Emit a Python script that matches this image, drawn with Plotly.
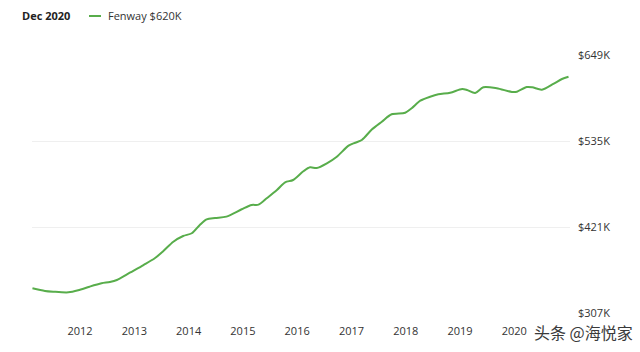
import plotly.graph_objects as go

dates = [
    "2011-02-15", "2011-05-10", "2011-07-05", "2011-10-15", "2011-12-20",
    "2012-03-05", "2012-05-25", "2012-07-20", "2012-09-05", "2012-12-01",
    "2013-03-03", "2013-05-18", "2013-07-15", "2013-09-20", "2013-11-25",
    "2014-01-22", "2014-03-17", "2014-05-02", "2014-06-28", "2014-09-12",
    "2014-12-24", "2015-03-01", "2015-04-16", "2015-06-10", "2015-08-18",
    "2015-10-12", "2015-12-05", "2016-02-14", "2016-03-28", "2016-05-12",
    "2016-07-19", "2016-09-24", "2016-12-12", "2017-01-26", "2017-03-11",
    "2017-05-19", "2017-07-24", "2017-09-28", "2017-12-28", "2018-02-10",
    "2018-04-09", "2018-06-14", "2018-08-08", "2018-10-27", "2019-01-15",
    "2019-02-17", "2019-04-13", "2019-06-07", "2019-09-05", "2019-12-16",
    "2020-01-19", "2020-03-25", "2020-05-01", "2020-07-05", "2020-09-20",
    "2020-11-17", "2020-12-31",
]
fenway_k = [
    339.7, 336.2, 335.2, 334.4, 337.1,
    341.9, 346.4, 348.1, 350.7, 360.4,
    370.6, 379.5, 389.2, 401.5, 409.1,
    412.7, 423.7, 431.2, 433.0, 434.7,
    444.5, 450.2, 450.6, 459.0, 470.0,
    480.3, 483.3, 495.2, 500.1, 499.2,
    505.4, 514.2, 528.8, 532.7, 536.3,
    550.5, 560.6, 570.4, 572.5, 578.4,
    588.4, 593.7, 596.9, 599.0, 603.9,
    602.6, 598.6, 606.2, 604.9, 600.0,
    600.4, 606.6, 606.2, 603.0, 610.6,
    617.2, 620.2,
]
y_ticks = [307, 421, 535, 649]
y_tick_labels = ["$307K", "$421K", "$535K", "$649K"]
x_ticks = ["2012-01-01", "2013-01-01", "2014-01-01", "2015-01-01", "2016-01-01",
           "2017-01-01", "2018-01-01", "2019-01-01", "2020-01-01"]
x_tick_labels = ["2012", "2013", "2014", "2015", "2016", "2017", "2018", "2019", "2020"]

GREEN = "#58ad4b"
FONT = "Open Sans"

fig = go.Figure()
fig.add_trace(go.Scatter(
    x=dates, y=fenway_k, mode="lines",
    line=dict(color=GREEN, width=2, shape="spline", smoothing=0.8),
    showlegend=False, hoverinfo="skip",
))

fig.update_layout(
    width=640, height=352,
    margin=dict(l=32, r=70, t=55, b=39),
    paper_bgcolor="white", plot_bgcolor="white",
    font=dict(family=FONT, size=11, color="#333333"),
    xaxis=dict(
        range=["2011-02-12", "2021-01-10"],
        tickvals=x_ticks, ticktext=x_tick_labels,
        showgrid=False, zeroline=False, showline=False,
        ticks="", ticklabelstandoff=10,
        tickfont=dict(family=FONT, size=11, color="#333333"),
    ),
    yaxis=dict(
        range=[307, 649], side="right",
        tickvals=y_ticks, ticktext=y_tick_labels,
        showgrid=True, gridcolor="#efefef", gridwidth=1,
        zeroline=False, showline=False, ticks="",
        ticklabelstandoff=7,
        tickfont=dict(family=FONT, size=11, color="#333333"),
    ),
    annotations=[
        dict(x=20, y=16, xref="paper", yref="paper", text="<b>Dec 2020</b>",
             showarrow=False, xanchor="left", yanchor="middle",
             font=dict(family=FONT, size=11, color="#222222")),
        dict(x=106, y=16, xref="paper", yref="paper", text="Fenway $620K",
             showarrow=False, xanchor="left", yanchor="middle",
             font=dict(family=FONT, size=11, color="#333333")),
        dict(x=635, y=332, xref="paper", yref="paper", text="头条 @海悦家",
             showarrow=False, xanchor="right", yanchor="middle",
             font=dict(family="Noto Sans CJK SC", size=16, color="#3a3a3a")),
    ],
)

# convert pixel-based annotation positions to paper coordinates
pw = 640 - 32 - 70
ph = 352 - 55 - 39
for a in fig.layout.annotations:
    a.x = (a.x - 32) / pw
    a.y = (352 - 39 - a.y) / ph

fig.add_shape(type="line", xref="paper", yref="paper",
              x0=(89 - 32) / pw, x1=(101 - 32) / pw,
              y0=(352 - 39 - 16) / ph, y1=(352 - 39 - 16) / ph,
              line=dict(color=GREEN, width=2))

fig.write_html("out.html")
